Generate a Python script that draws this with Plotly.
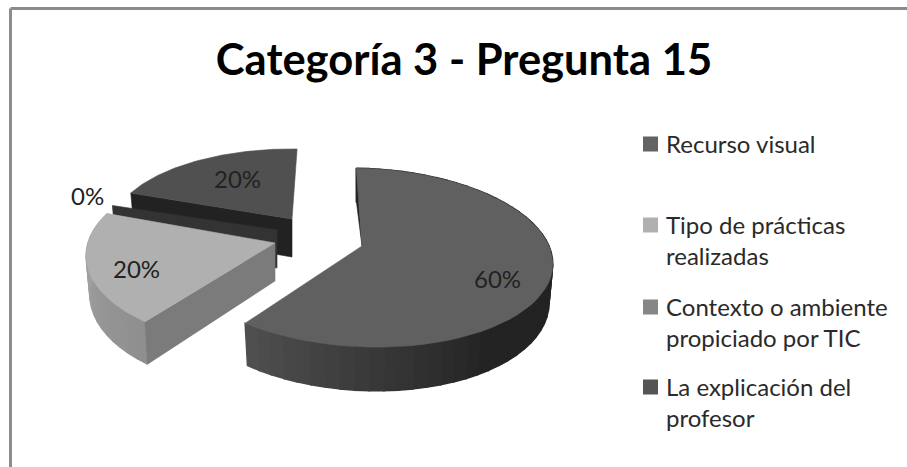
import math
import plotly.graph_objects as go

TITLE = "Categoría 3 - Pregunta 15"
categories = ["Recurso visual", "Tipo de prácticas<br>realizadas",
              "Contexto o ambiente<br>propiciado por TIC", "La explicación del<br>profesor"]
values = [60, 20, 0, 20]
swatch_colors = ["#636363", "#b0b0b0", "#868686", "#555555"]

# Projection settings per slice: exploded centre, radius, shear, vertical scale
centres = [(362, 246), (275, 243), (277, 230), (292, 219)]
radii = [187, 187, 183, 179]
shears = [13, -2, 0, 0.5]
vscales = [1.0, 1.02, 0.85, 0.9]
top_colors = ["#606060", "#b0b0b0", "#333333", "#505050"]
label_xy = [(497, 278), (136, 268), (87, 195), (237, 178)]
legend_first_line_y = [143, 224, 306, 386]

ROTATION = 2
PERSP = 0.13
RY = 88
DEPTH = 38


def project(i, angle, z=0.0):
    a = math.radians(angle)
    u, v = math.sin(a), -math.cos(a)
    s = 1 / (1 - PERSP * v)
    cx, cy = centres[i]
    x = (radii[i] * u + shears[i] * v) * s
    y = RY * vscales[i] * v * s
    return (cx + x * (1 - 0.02 * z), cy + y + DEPTH * s * z)


def apex(i, z=0.0):
    return (centres[i][0], centres[i][1] + DEPTH * z)


def mix(c1, c2, t):
    return "rgb({0},{0},{0})".format(int(round(c1 + (c2 - c1) * t)))


fig = go.Figure()


def poly(points, color, lw=0.6):
    fig.add_trace(go.Scatter(
        x=[p[0] for p in points] + [points[0][0]],
        y=[p[1] for p in points] + [points[0][1]],
        mode="lines", fill="toself", fillcolor=color,
        line=dict(color=color, width=lw),
        hoverinfo="skip", showlegend=False))


total = sum(values)
spans, cur = [], ROTATION
for v in values:
    sweep = 360 * v / total
    spans.append((cur, cur + sweep))
    cur += sweep


def arc(i, start, end, n=60):
    return [project(i, start + (end - start) * k / n) for k in range(n + 1)]


def side_wall(i, start, end, shade, step=4):
    n = max(1, int((end - start) / step))
    for k in range(n):
        a0 = start + (end - start) * k / n
        a1 = start + (end - start) * (k + 1) / n
        poly([project(i, a0), project(i, a1), project(i, a1, 1), project(i, a0, 1)],
             shade((a0 + a1) / 2), lw=1.5)


# back slice: La explicación del profesor
a0, a1 = spans[3]
poly([project(3, a0), apex(3), apex(3, 1), project(3, a0, 1)], "#222222")
poly([apex(3)] + arc(3, a0, a1), top_colors[3])

# zero-width slice: Contexto
a0, _ = spans[2]
poly([project(2, a0), apex(2), apex(2, 1), project(2, a0, 1)], top_colors[2])

# light slice: Tipo de prácticas
a0, a1 = spans[1]
side_wall(1, a0, a1, lambda a: mix(0x8e, 0xa8, (a - a0) / (a1 - a0)))
poly([project(1, a0), apex(1), apex(1, 1), project(1, a0, 1)], "#7b7b7b")
poly([apex(1)] + arc(1, a0, a1), top_colors[1])

# big slice: Recurso visual
a0, a1 = spans[0]
poly([project(0, a0), project(0, a0, 1), apex(0)], "#222222")


def big_shade(a):
    if a > 150:
        return mix(0x25, 0x50, (a - 150) / (a1 - 150))
    return "rgb(35,35,35)"


side_wall(0, a0, a1, big_shade)
poly([apex(0)] + arc(0, a0, a1), top_colors[0])

# legend swatches and texts
annotations = []
for name, col, ly in zip(categories, swatch_colors, legend_first_line_y):
    fig.add_trace(go.Scatter(
        x=[650.5], y=[ly + 1], mode="markers", name=name.replace("<br>", " "),
        showlegend=False, hoverinfo="name",
        marker=dict(symbol="square", size=15, color=col)))
    annotations.append(dict(x=664, y=ly - 16, text=name, showarrow=False, align="left",
                            xanchor="left", yanchor="top",
                            font=dict(family="Lato", size=24, color="#2a2a2a")))

annotations += [dict(x=x, y=y, text=f"{v / total * 100:.0f}%", showarrow=False,
                     font=dict(family="Lato", size=24, color="#222222"),
                     xanchor="center", yanchor="middle")
                for (x, y), v in zip(label_xy, values)]

fig.update_layout(
    width=907, height=467, margin=dict(l=0, r=0, t=0, b=0),
    paper_bgcolor="white", plot_bgcolor="white", showlegend=False,
    xaxis=dict(range=[0, 907], visible=False, fixedrange=True),
    yaxis=dict(range=[467, 0], visible=False, fixedrange=True),
    title=dict(text=f"<b>{TITLE}</b>", x=464 / 907, xanchor="center", xref="paper",
               y=1 - 60 / 467, yanchor="middle", yref="paper",
               font=dict(family="Lato", size=43.5, color="#000000")),
    annotations=annotations,
    shapes=[
        dict(type="line", xref="x", yref="y", x0=10.5, x1=907, y0=8.5, y1=8.5,
             line=dict(color="#8c8c8c", width=3)),
        dict(type="line", xref="x", yref="y", x0=10.5, x1=10.5, y0=8.5, y1=467,
             line=dict(color="#8c8c8c", width=3)),
    ],
)
fig.write_html("out.html", config=dict(displayModeBar=False),
               post_script="document.body.style.margin='0';document.body.style.overflow='hidden';")
